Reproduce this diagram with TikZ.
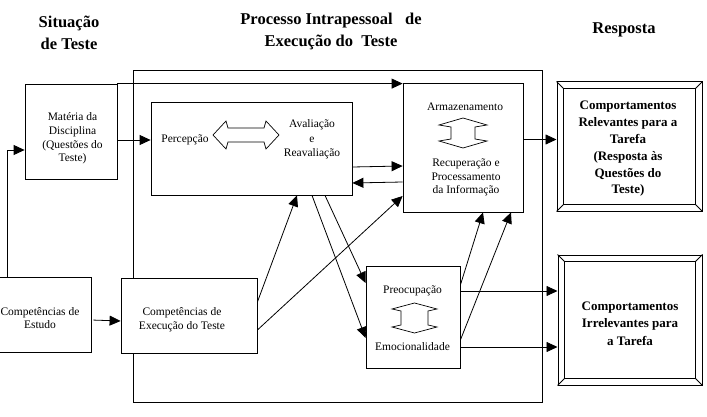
\documentclass[tikz,border=0pt]{standalone}
\usepackage{fontspec}
\setmainfont{Liberation Serif}
\usetikzlibrary{arrows.meta,calc}
\begin{document}
\begin{tikzpicture}[x=1pt,y=-1pt,line width=0.8pt,
  arr/.style={-{Triangle[length=11pt,width=10pt]}},
  box/.style={draw,fill=white,inner sep=0pt},
  body/.style={align=center,inner sep=0pt,font=\fontsize{11.5}{13.8}\selectfont},
  bold/.style={align=center,inner sep=0pt,font=\fontsize{13}{16.8}\selectfont\bfseries},
  head/.style={align=center,inner sep=0pt,font=\fontsize{16.5}{22}\selectfont\bfseries},
  dbl/.style={draw,fill=white,line width=0.7pt}]
\useasboundingbox (0,0) rectangle (707,417);

% column headings
\node[head] (h1) at (69,32.5) {Situação\\de Teste};
\node[head] (h2) at (331,31.5) {Processo Intrapessoal\ \ \ de\\Execução do\ \ Teste};
\node[head] (h3) at (624,30) {Resposta};

% frame of the intrapersonal process
\node[draw,minimum width=409pt,minimum height=332pt,inner sep=0pt] (frame) at (337.5,236) {};

% boxes
\node[box,minimum width=92pt,minimum height=95pt] (mat) at (71,131.5) {};
\node[body] (mattxt) at (72.5,138.5) {Matéria da\\Disciplina\\(Questões do\\Teste)};

\node[box,minimum width=201pt,minimum height=93pt] (perc) at (251.5,148.5) {};
\node[body] (ptxt) at (185,140) {Percepção};
\node[body,font=\fontsize{11.5}{14.5}\selectfont] (avtxt) at (312,139.5) {Avaliação\\e\\Reavaliação};

\node[box,minimum width=120pt,minimum height=129pt] (arm) at (463,147.5) {};
\node[body] (armtxt) at (465,107) {Armazenamento};
\node[body,font=\fontsize{11.5}{13.5}\selectfont] (rectxt) at (466,177.5) {Recuperação e\\Processamento\\da Informação};

\node[box,minimum width=94pt,minimum height=102pt] (preo) at (413,317) {};
\node[body] (pretxt) at (412.5,291) {Preocupação};
\node[body] (emotxt) at (412.5,347) {Emocionalidade};

\node[box,minimum width=101pt,minimum height=75pt] (est) at (40.5,314.5) {};
\node[body] (esttxt) at (40,318) {Competências de\\Estudo};

\node[box,minimum width=136pt,minimum height=75pt] (exe) at (189,315.5) {};
\node[body] (exetxt) at (182,320) {Competências de\\Execução do Teste};

% response boxes with bevelled double border
\node[box,line width=1pt,minimum width=145pt,minimum height=129pt] (r1) at (629.5,146.5) {};
\node[box,line width=1pt,minimum width=144pt,minimum height=130pt] (r2) at (630,320) {};
\foreach \r in {r1,r2}{
  \draw ([shift={(7,7)}]\r.north west) rectangle ([shift={(-7,-7)}]\r.south east);
  \draw (\r.north west) -- ([shift={(7,7)}]\r.north west);
  \draw (\r.north east) -- ([shift={(-7,7)}]\r.north east);
  \draw (\r.south west) -- ([shift={(7,-7)}]\r.south west);
  \draw (\r.south east) -- ([shift={(-7,-7)}]\r.south east);
}
\node[bold] (r1txt) at (628,149) {Comportamentos\\Relevantes para a\\Tarefa\\(Resposta às\\Questões do\\Teste)};
\node[bold,font=\fontsize{13}{17.5}\selectfont\bfseries] (r2txt) at (630,323.5) {Comportamentos\\Irrelevantes para\\a Tarefa};

% two-headed block arrows
\draw[dbl] (213,135) -- (226,121) -- (228,128) -- (264,128) -- (266,121) -- (279,135)
  -- (266,149) -- (264,142) -- (228,142) -- (226,149) -- cycle;
\draw[dbl] (463,118) -- (487,125) -- (475,127) -- (475,139) -- (487,141) -- (463,148)
  -- (439,141) -- (451,139) -- (451,127) -- (439,125) -- cycle;
\draw[dbl] (414.5,303) -- (437,309) -- (428,311) -- (428,325) -- (437,327) -- (414.5,333)
  -- (392,327) -- (401,325) -- (401,311) -- (392,309) -- cycle;

% connectors
\coordinate (bend) at (7,150);
\draw[arr] (bend |- est.north) -- (bend) -- (bend -| mat.west);
\draw[arr,shorten <=2pt] ($(est.east)+(0,5.5)$) -- ($(exe.west)+(0,5.5)$);
\draw[arr] (mat.north east) -- (mat.north east -| arm.west);
\draw[arr] (mat.east |- ptxt) -- (perc.west |- ptxt);
\draw[arr] ($(perc.east)+(0,18.5)$) -- ($(arm.west)+(0,18.5)$);
\draw[arr] ($(arm.west)+(0,34.5)$) -- ($(perc.east)+(0,34.5)$);
\draw[arr] ($(arm.east)+(0,-8)$) -- ($(r1.west)+(0,-7)$);
\draw[arr] (preo.east |- pretxt) -- (r2.west |- pretxt);
\draw[arr] (preo.east |- emotxt) -- (r2.west |- emotxt);
\draw[arr] ($(exe.east)+(0,-13.5)$) -- ($(perc.south)+(45.5,0)$);
\draw[arr] ($(exe.east)+(0,14.5)$) -- ($(arm.west)+(0,48.5)$);
\draw[arr] ($(perc.south)+(60.5,0)$) -- ($(preo.west)+(0,21)$);
\draw[arr] ($(perc.south)+(73.5,0)$) -- ($(preo.west)+(0,-34)$);
\draw[arr] ($(preo.east)+(0,-32)$) -- ($(arm.south)+(20,0)$);
\draw[arr] ($(preo.east)+(0,23)$) -- ($(arm.south)+(48,0)$);
\end{tikzpicture}
\end{document}
